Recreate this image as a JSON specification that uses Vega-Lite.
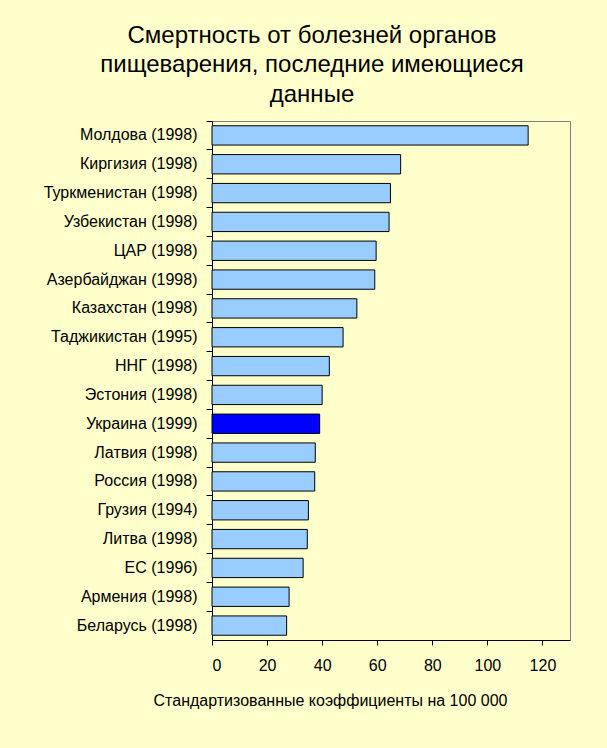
{
  "$schema": "https://vega.github.io/schema/vega-lite/v6.json",
  "autosize": {"type": "none"},
  "padding": {"left": 212, "top": 121, "right": 37, "bottom": 108},
  "width": 358,
  "height": 519,
  "background": "#FFFFCC",
  "title": {
    "text": ["Смертность от болезней органов", "пищеварения, последние имеющиеся", "данные"],
    "font": "Liberation Sans",
    "fontSize": 24,
    "fontWeight": "normal",
    "color": "#000000",
    "lineHeight": 29.5,
    "anchor": "middle",
    "dx": -79,
    "offset": 14
  },
  "config": {
    "view": {"stroke": "#808080", "strokeWidth": 1, "fill": "#FFFFCC"},
    "font": "Liberation Sans"
  },
  "data": {
    "values": [
      {"country": "Молдова (1998)", "value": 114.8},
      {"country": "Киргизия (1998)", "value": 68.5},
      {"country": "Туркменистан (1998)", "value": 64.8},
      {"country": "Узбекистан (1998)", "value": 64.3},
      {"country": "ЦАР (1998)", "value": 59.6},
      {"country": "Азербайджан (1998)", "value": 59.1},
      {"country": "Казахстан (1998)", "value": 52.6},
      {"country": "Таджикистан (1995)", "value": 47.6},
      {"country": "ННГ (1998)", "value": 42.6},
      {"country": "Эстония (1998)", "value": 40.0},
      {"country": "Украина (1999)", "value": 39.1},
      {"country": "Латвия (1998)", "value": 37.5},
      {"country": "Россия (1998)", "value": 37.3},
      {"country": "Грузия (1994)", "value": 35.0},
      {"country": "Литва (1998)", "value": 34.6},
      {"country": "ЕС (1996)", "value": 33.1},
      {"country": "Армения (1998)", "value": 28.0},
      {"country": "Беларусь (1998)", "value": 27.1}
    ]
  },
  "mark": {"type": "bar", "stroke": "#000000", "strokeWidth": 1, "height": {"band": 0.67}},
  "encoding": {
    "y": {
      "field": "country",
      "type": "nominal",
      "sort": null,
      "scale": {"paddingInner": 0, "paddingOuter": 0},
      "axis": {
        "title": null,
        "bandPosition": 0,
        "labelFontSize": 16,
        "labelColor": "#000000",
        "labelPadding": 9,
        "tickColor": "#000000",
        "tickSize": 6,
        "domainColor": "#000000",
        "labelFont": "Liberation Sans"
      }
    },
    "x": {
      "field": "value",
      "type": "quantitative",
      "scale": {"domain": [0, 130], "nice": false},
      "axis": {
        "values": [0, 20, 40, 60, 80, 100, 120],
        "grid": false,
        "title": "Стандартизованные коэффициенты на 100 000",
        "titleFont": "Liberation Sans",
        "titleFontSize": 16,
        "titleFontWeight": "normal",
        "titleColor": "#000000",
        "titleX": 118,
        "titleY": 60,
        "titleAlign": "center",
        "titleBaseline": "middle",
        "labelFontSize": 16,
        "labelColor": "#000000",
        "labelPadding": 12,
        "labelFont": "Liberation Sans",
        "tickColor": "#000000",
        "tickSize": 5,
        "domainColor": "#000000"
      }
    },
    "color": {
      "condition": {"test": "datum.country === 'Украина (1999)'", "value": "#0000FF"},
      "value": "#99CCFF"
    },
    "opacity": {"value": 1}
  }
}
